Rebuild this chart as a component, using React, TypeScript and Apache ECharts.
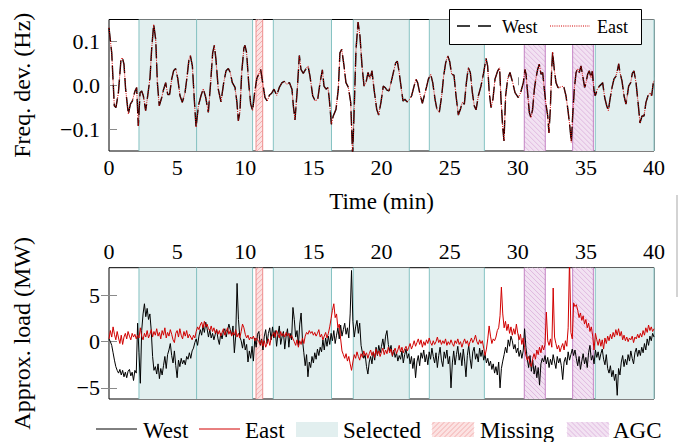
import React, { useEffect, useRef } from "react";
import * as echarts from "echarts";

// ---------- data ----------
const xTickValues = [0, 5, 10, 15, 20, 25, 30, 35, 40];
const freqTickValues = [-0.1, 0, 0.1];
const loadTickValues = [-5, 0, 5];

const freqTime = [
  0.0, 0.2, 0.39, 0.51, 0.69, 0.88, 0.98, 1.1, 1.22, 1.42, 1.57, 1.71, 1.91, 2.03, 2.15, 2.28, 2.4, 2.52, 2.69, 2.84,
  3.01, 3.13, 3.28, 3.43, 3.55, 3.69, 3.87, 4.01, 4.16, 4.31, 4.45, 4.6, 4.74, 4.89, 5.04, 5.21, 5.38, 5.58, 5.72, 5.87,
  5.97, 6.12, 6.26, 6.39, 6.56, 6.75, 6.92, 7.1, 7.29, 7.46, 7.61, 7.73, 7.85, 8.02, 8.22, 8.42, 8.59, 8.76, 8.9, 9.05,
  9.25, 9.39, 9.49, 9.61, 9.74, 9.9, 9.98, 10.1, 10.25, 10.4, 10.54, 10.69, 10.84, 10.98, 11.13, 11.28, 11.45, 11.62, 11.77, 11.94,
  12.11, 12.31, 12.5, 12.7, 12.87, 13.04, 13.24, 13.43, 13.53, 13.65, 13.82, 13.97, 14.09, 14.26, 14.43, 14.61, 14.75, 14.95, 15.14, 15.32,
  15.49, 15.66, 15.78, 15.93, 16.07, 16.17, 16.32, 16.46, 16.66, 16.83, 16.95, 17.08, 17.25, 17.39, 17.57, 17.74, 17.88, 17.98, 18.13, 18.28,
  18.42, 18.57, 18.72, 18.86, 19.01, 19.16, 19.3, 19.45, 19.65, 19.79, 19.96, 20.13, 20.26, 20.4, 20.55, 20.7, 20.87, 21.04, 21.16, 21.28,
  21.43, 21.58, 21.72, 21.87, 22.07, 22.21, 22.39, 22.53, 22.65, 22.83, 23.0, 23.14, 23.32, 23.44, 23.61, 23.76, 23.93, 24.07, 24.24, 24.42,
  24.56, 24.71, 24.86, 25.0, 25.15, 25.32, 25.47, 25.64, 25.79, 25.93, 26.08, 26.23, 26.37, 26.52, 26.67, 26.81, 26.94, 27.11, 27.3, 27.5,
  27.67, 27.79, 27.91, 28.04, 28.18, 28.33, 28.53, 28.67, 28.77, 28.89, 28.99, 29.11, 29.26, 29.43, 29.63, 29.8, 30.04, 30.21, 30.41, 30.53,
  30.61, 30.7, 30.85, 30.97, 31.09, 31.22, 31.34, 31.46, 31.58, 31.71, 31.83, 31.95, 32.07, 32.2, 32.29, 32.39, 32.49, 32.56, 32.68, 32.81,
  32.95, 33.1, 33.25, 33.39, 33.54, 33.69, 33.83, 33.93, 34.03, 34.15, 34.28, 34.4, 34.52, 34.64, 34.77, 34.91, 35.01, 35.13, 35.25, 35.38,
  35.47, 35.6, 35.69, 35.84, 35.99, 36.13, 36.23, 36.38, 36.53, 36.65, 36.77, 36.92, 37.06, 37.21, 37.33, 37.41, 37.5, 37.65, 37.8, 37.94,
  38.04, 38.14, 38.29, 38.41, 38.53, 38.68, 38.83, 38.97, 39.12, 39.27, 39.41, 39.56, 39.71, 39.83, 39.95, 40.0,
];

const freqWest = [
  0.131, 0.074, -0.047, -0.051, -0.017, 0.059, 0.063, 0.048, -0.009, -0.066, -0.043, -0.036, -0.013, -0.005, -0.093, -0.017, -0.013, -0.024, -0.058, -0.024,
  0.017, 0.082, 0.139, 0.104, 0.006, -0.047, -0.028, -0.009, 0.006, -0.021, -0.021, 0.014, 0.033, 0.038, 0.017, -0.024, -0.039, -0.017, 0.017, 0.059,
  0.068, 0.044, -0.032, -0.096, -0.047, -0.024, -0.008, -0.028, -0.062, 0.006, 0.074, 0.091, 0.059, -0.009, -0.038, 0.006, 0.033, 0.038, 0.029, 0.006,
  -0.005, -0.039, -0.081, -0.06, 0.029, 0.085, 0.091, 0.074, 0.006, -0.043, -0.058, -0.017, 0.014, 0.025, 0.036, 0.006, -0.028, -0.036, -0.023, -0.018,
  -0.009, -0.023, -0.005, 0.006, 0.009, 0.002, 0.006, -0.009, -0.047, -0.079, -0.009, 0.068, 0.036, 0.027, 0.036, 0.044, 0.021, -0.024, -0.036, -0.032,
  0.006, 0.035, -0.002, -0.009, -0.005, -0.032, -0.089, -0.07, -0.055, -0.009, 0.074, 0.082, 0.044, 0.006, -0.005, -0.039, -0.16, -0.07, 0.082, 0.144,
  0.112, 0.044, -0.002, 0.006, 0.029, 0.014, 0.033, -0.009, -0.055, -0.068, -0.039, -0.002, -0.005, -0.011, -0.013, 0.006, 0.029, 0.051, 0.055, 0.033,
  -0.002, -0.036, -0.032, -0.038, -0.032, -0.024, -0.002, 0.014, 0.006, -0.021, -0.041, -0.024, -0.002, 0.014, 0.025, 0.006, -0.032, -0.055, -0.062, -0.024,
  0.021, 0.051, 0.067, 0.055, 0.025, 0.023, -0.024, -0.068, -0.055, -0.039, -0.043, 0.006, 0.04, 0.029, -0.017, -0.047, -0.056, -0.024, -0.002, 0.029,
  0.061, 0.044, -0.017, -0.051, -0.032, 0.014, 0.033, 0.04, -0.032, -0.093, -0.127, -0.024, 0.014, 0.029, 0.006, -0.017, -0.028, -0.017, 0.006, 0.036,
  0.025, -0.009, -0.062, -0.074, -0.055, -0.009, 0.017, 0.036, 0.048, 0.025, 0.029, -0.009, -0.043, -0.07, -0.109, -0.055, 0.036, 0.076, 0.036, 0.006,
  -0.005, -0.005, -0.002, -0.005, -0.024, -0.058, -0.096, -0.13, -0.07, -0.009, 0.029, 0.038, 0.029, 0.044, 0.021, -0.005, 0.006, 0.025, 0.033, 0.017,
  0.032, -0.013, -0.024, -0.009, -0.002, 0.002, 0.006, -0.028, -0.047, -0.058, -0.032, -0.005, 0.014, 0.021, 0.036, 0.049, 0.029, 0.01, -0.024, -0.043,
  -0.024, -0.002, 0.006, 0.027, 0.033, 0.006, -0.039, -0.086, -0.07, -0.07, -0.039, -0.024, -0.017, -0.024, 0.006, 0.01,
];
// the two frequency traces coincide in the figure
const freqEast = freqWest;

const loadStep = 0.1; // minutes between load samples
const loadWest = [
  0.3, 0.0, -0.4, -1.2, -2.0, -2.7, -3.1, -3.4, -3.0, -3.6,
  -3.1, -3.8, -3.3, -3.9, -3.2, -3.0, -3.7, -3.3, -4.2, -3.1,
  -3.4, 2.0, -1.2, -4.5, 1.2, 3.0, 4.1, 2.7, 3.6, 2.4,
  3.0, 1.2, -1.6, -3.1, -2.7, -3.5, -2.4, -4.0, -2.9, -3.6,
  -2.6, -1.6, -2.9, -1.4, -0.9, -0.2, -1.5, -2.3, -1.0, -2.6,
  -3.9, -2.0, -2.7, -1.8, -2.4, -2.0, -2.5, -1.6, -1.9, -1.2,
  -1.8, -1.0, -0.7, -0.1, 0.3, -0.4, 0.6, 1.3, 0.7, 1.7,
  1.0, 2.1, 1.4, 0.5, 1.3, 0.4, 0.9, 0.2, 0.8, 1.3,
  0.3, -0.3, 0.9, 0.3, 1.1, 1.4, 0.5, 1.2, 1.9, 1.3,
  0.7, 1.7, -1.2, 0.6, 6.3, 2.4, 0.5, 0.1, -0.7, 0.3,
  -0.9, -0.3, -2.2, -1.0, -1.8, -0.5, -2.1, 0.4, -0.6, 0.8,
  1.1, -0.4, 0.3, -0.9, 0.6, 1.3, -0.2, 0.9, 1.5, 0.2,
  1.6, 0.4, 1.2, -0.5, 0.8, 1.7, -0.3, 0.5, 1.1, -0.8,
  0.6, 1.4, -0.6, 0.9, 0.2, 3.7, 2.4, 0.5, 1.2, -0.4,
  1.9, 3.1, 0.2, -1.2, -2.6, -1.4, -3.8, -2.2, -2.8, -1.6,
  -2.3, -1.2, -1.9, -0.8, -1.5, -0.6, -1.1, 0.2, -0.9, 0.4,
  -0.5, 0.6, -0.3, 0.9, 0.1, 1.2, -0.2, 0.7, 1.5, 0.3,
  1.8, 0.6, 1.3, 2.0, 0.8, 1.5, 0.4, 3.0, 7.7, 2.2,
  0.5, 1.6, 2.3, 0.9, 2.0, -0.4, -1.2, -1.8, -1.4, -2.7,
  -3.5, -2.2, -1.6, -2.4, -1.1, -2.0, -0.6, -1.5, -0.4, -1.2,
  -0.5, 0.3, -0.8, 0.6, 1.2, -0.3, -1.0, -0.4, -1.6, -0.9,
  -1.7, -1.2, -2.1, -1.5, -1.9, -1.0, -2.3, -1.4, -0.8, -1.8,
  -1.3, -2.4, -1.6, -2.9, -1.8, -3.9, -2.2, -1.5, -2.6, -1.2,
  -1.8, -0.9, -2.2, -1.4, -2.5, -1.1, -1.9, -0.7, -1.6, -2.3,
  -1.2, -2.8, -1.5, -0.6, -2.0, -2.7, -1.1, -1.8, -0.9, -2.4,
  -1.6, -5.0, -2.3, -1.0, -2.5, -1.4, -0.5, -2.0, -1.2, -2.6,
  -0.8, -2.1, -3.8, -1.5, -0.4, -1.8, -2.9, -1.1, -0.6, -1.9,
  -1.3, -2.2, -0.7, -1.6, -0.9, -2.0, -1.4, -2.3, -1.8, -2.6,
  -2.1, -3.0, -2.4, -3.4, -2.7, -3.6, -2.2, -5.0, -2.9, -2.1,
  -1.4, -0.6, -1.2, 0.2, -0.5, 0.6, 0.1, -0.8, -0.3, -1.2,
  -0.7, -1.6, -0.9, -1.8, -1.0, 1.4, -0.6, -1.9, -2.8, -1.5,
  -3.2, -2.0, -3.5, -2.6, -3.9, -2.8, -4.7, -2.4, -1.8, -2.2,
  -1.5, -2.4, -1.7, -2.8, -1.9, -2.5, -1.4, -2.2, -2.9, -1.6,
  -2.3, -1.8, -2.6, -4.1, -2.2, -1.7, -2.5, -1.1, -2.0, -1.4,
  -0.8, -1.5, -0.9, -1.8, -2.6, -1.6, -3.0, -2.1, -1.3, -2.4,
  -1.7, -2.8, -1.2, -0.4, -2.0, -1.5, -2.4, -0.9, -1.7, -1.1,
  -2.0, -1.3, -0.8, -1.9, -2.5, -1.4, -2.9, -3.4, -2.6, -3.8,
  -3.1, -4.2, -3.5, -5.8, -2.9, -3.6, -2.2, -1.5, -2.7, -1.9,
  -2.5, -1.4, -2.1, -1.0, -1.8, -2.4, -1.2, -0.7, -1.6, -0.9,
  -1.5, -0.6, -1.2, -0.2, -0.9, 0.3, -0.4, 0.6, 0.1, 0.9,
  0.5,
];

const loadEast = [
  0.3, 1.2, 0.5, 1.6, 0.8, 0.2, 1.1, 0.4, -0.2, 0.7,
  -0.3, 0.5, 0.9, 0.3, 1.1, 0.6, 0.2, 0.9, 0.5, 0.8,
  0.3, 0.7, 0.4, 1.5, 0.6, 0.2, 0.9, 0.5, 1.2, 0.4,
  0.8, 1.3, 0.5, 1.1, 0.7, 1.4, 0.6, 1.0, 0.3, 1.2,
  0.7, 1.5, 0.4, 1.0, 0.6, 1.3, 0.8, 0.2, -0.1, 0.9,
  1.2, 0.5, 1.4, 0.7, 0.3, 1.1, 0.6, 1.2, 0.4, 0.8,
  0.5, 0.2, 0.7, 0.4, 1.1, 1.6, 1.3, 1.8, 2.1, 1.5,
  2.2, 1.6, 1.9, 1.4, 1.2, 1.7, 1.1, 1.5, 0.9, 1.3,
  0.8, 1.2, 0.6, 1.0, 1.4, 0.7, 1.1, 1.5, 0.8, 1.2,
  0.6, 1.0, 0.7, 1.3, 0.5, 0.9, 0.4, 1.1, 1.9, 1.5,
  0.8, 0.4, 0.7, 0.2, 0.5, 0.3, 0.6, 0.1, 0.4, 0.2,
  0.0, -0.3, 0.2, -0.5, 0.1, -0.6, -0.2, 0.3, -0.4, 0.4,
  0.7, 1.0, 0.5, 1.2, 0.8, 0.4, 1.1, 0.6, 0.9, 0.5,
  1.0, 0.6, 0.9, 0.4, 0.7, 0.3, 0.0, -0.4, 0.2, -0.6,
  0.1, -0.3, 0.4, -0.2, 0.6, 1.0, 0.8, 1.2, 0.9, 1.1,
  0.7, 1.0, 0.6, 0.9, 1.3, 0.5, 0.8, 0.2, 0.6, 1.0,
  0.4, 0.9, 1.6, 2.5, 3.4, 4.1, 2.6, 3.0, 1.5, 1.9,
  0.3, -1.0, -1.4, -1.8, -1.3, -2.1, -1.6, -2.4, -3.1, -2.2,
  -1.4, -1.8, -1.1, -1.6, -2.0, -1.3, -1.7, -1.0, -1.5, -1.2,
  -1.8, -1.3, -0.9, -1.5, -1.1, -1.7, -0.8, -1.4, -1.0, -1.6,
  -1.1, -0.7, -1.4, -0.9, -1.3, -0.6, -1.2, -0.8, -1.5, -1.0,
  -0.7, -1.3, -0.9, -0.4, -1.1, -0.6, -1.2, -0.8, -0.5, -1.0,
  -0.6, -0.2, -0.8, -0.4, 0.1, -0.5, -0.1, 0.3, -0.3, 0.2,
  -0.6, 0.0, -0.4, 0.2, -0.2, 0.4, -0.1, -0.4, 0.1, -0.3,
  0.0, 0.5, -0.1, 0.2, -0.3, 0.1, -0.2, 0.3, -0.4, 0.0,
  -0.3, 0.2, -0.2, -0.5, 0.1, -0.2, 0.3, -0.3, 0.0, -0.6,
  -0.1, 0.3, -0.2, 0.1, -0.5, 0.0, 0.4, -0.1, 0.2, 0.7,
  0.0, -0.3, 0.2, -0.2, 0.1, -0.7, -1.5, -0.8, 0.3, 1.7,
  0.6, -0.2, 0.3, 0.1, 0.5, 1.2, 1.5, 2.8, 5.9, 3.0,
  1.5, 2.2, 1.2, 1.9, 0.9, 1.6, 0.7, 1.4, 0.8, 1.9,
  0.9, 0.2, 0.8, -0.3, 0.4, -0.6, -1.5, -2.0, -1.6, -2.4,
  -2.7, -1.8, -1.3, -1.9, -0.9, -1.4, -0.6, -1.2, -0.4, -0.9,
  -0.3, 3.2, 0.1, -0.4, 0.3, -0.6, 5.8, 0.5, -0.2, -0.8,
  -0.4, -1.1, -0.6, -0.2, -0.9, 0.1, -0.5, 1.5, 9.0, 1.0,
  0.3, 4.2, 3.8, 4.0, 3.4, 2.6, 3.1, 2.3, 2.8, 1.9,
  2.4, 1.5, 2.0, 1.1, 1.6, 0.6, -0.9, 0.9, 0.2, -0.4,
  0.3, -0.5, 0.2, -0.8, 0.4, -0.2, 0.6, 0.1, 0.8, 0.3,
  1.0, 0.5, 1.3, 0.7, 1.4, 0.6, 1.1, 0.2, 0.7, 0.1,
  0.5, 0.0, 0.4, 0.2, 0.6, -0.1, 0.5, 0.3, 0.8, 0.4,
  0.9, 0.5, 1.2, 0.7, 1.5, 1.0, 1.8, 1.2, 1.6, 1.1,
  1.4,
];

const selectedSpans = [[2.2, 6.43], [6.43, 10.54], [12.06, 16.33], [17.93, 22.04], [23.51, 27.55], [35.69, 40]];
const missingSpans = [[10.79, 11.28]];
const agcSpans = [[30.48, 32.02], [34.03, 35.55]];

// ---------- styles ----------
const FONT = '"Liberation Serif", "Times New Roman", serif';
const RED = "#d10000";
const REGION = {
  selected: { fill: "#e2efef", hatch: "", dir: 0, border: "#86c3c3" },
  missing: { fill: "#fbe2e2", hatch: "#f0a0a0", dir: 1, border: "#ee8e8e" },
  agc: { fill: "#f2e2f2", hatch: "#d9acd9", dir: -1, border: "#c483c4" },
};

function hatchLines(x0: number, y0: number, x1: number, y1: number, dir: number, step: number, color: string) {
  const out: any[] = [];
  if (!dir) return out;
  if (dir > 0) {
    for (let c = x0 + y0 + step / 2; c < x1 + y1; c += step) {
      const xs = Math.max(x0, c - y1);
      const xe = Math.min(x1, c - y0);
      if (xe > xs) out.push({ type: "line", silent: true, shape: { x1: xs, y1: c - xs, x2: xe, y2: c - xe }, style: { stroke: color, lineWidth: 0.8 } });
    }
  } else {
    for (let c = y0 - x1 + step / 2; c < y1 - x0; c += step) {
      const xs = Math.max(x0, y0 - c);
      const xe = Math.min(x1, y1 - c);
      if (xe > xs) out.push({ type: "line", silent: true, shape: { x1: xs, y1: xs + c, x2: xe, y2: xe + c }, style: { stroke: color, lineWidth: 0.8 } });
    }
  }
  return out;
}

function regionSeries(name: string, spans: number[][], kind: keyof typeof REGION, xIdx: number, yIdx: number) {
  const st = REGION[kind];
  return {
    type: "custom",
    name,
    xAxisIndex: xIdx,
    yAxisIndex: yIdx,
    silent: true,
    z: 1,
    data: spans.map((s) => [s[0], s[1]]),
    encode: { x: [0, 1] },
    renderItem: (params: any, api: any) => {
      const cs = params.coordSys;
      const xa = api.coord([api.value(0), 0])[0];
      const xb = api.coord([api.value(1), 0])[0];
      const y0 = cs.y;
      const y1 = cs.y + cs.height;
      const children: any[] = [
        { type: "rect", shape: { x: xa, y: y0, width: xb - xa, height: y1 - y0 }, style: { fill: st.fill } },
        ...hatchLines(xa, y0, xb, y1, st.dir, 5, st.hatch),
        { type: "line", shape: { x1: xa, y1: y0, x2: xa, y2: y1 }, style: { stroke: st.border, lineWidth: 1 } },
        { type: "line", shape: { x1: xb, y1: y0, x2: xb, y2: y1 }, style: { stroke: st.border, lineWidth: 1 } },
      ];
      return { type: "group", children };
    },
  };
}

const minusFmt = (digits: number) => (v: number) =>
  (v < 0 ? "\u2212" : "") + (digits > 0 ? Math.abs(v).toFixed(digits) : String(Math.abs(v)));

const tickStyle = { show: true, inside: true, length: 8, lineStyle: { color: "#8a8a8a", width: 1 } };
const labelStyle = { color: "#000", fontFamily: FONT, fontSize: 22 };

function textEl(text: string, x: number, y: number, size: number) {
  return { type: "text", z: 120, silent: true, style: { text, x, y, fill: "#000", fontFamily: FONT, fontSize: size, verticalAlign: "middle", align: "left" } };
}

export default function App() {
  const ref = useRef<HTMLDivElement>(null);
  useEffect(() => {
    document.body.style.margin = "0";
    if (!ref.current) return;
    const chart = echarts.init(ref.current, null, { renderer: "svg" });

    const freqW = freqTime.map((t, i) => [t, freqWest[i]]);
    const freqE = freqTime.map((t, i) => [t, freqEast[i]]);
    const loadW = loadWest.map((v, i) => [+(i * loadStep).toFixed(1), v]);
    const loadE = loadEast.map((v, i) => [+(i * loadStep).toFixed(1), v]);

    // legends drawn as graphics
    const lgY = 429;
    const graphic: any[] = [
      // top legend
      { type: "rect", z: 110, silent: true, shape: { x: 449.5, y: 9.5, width: 192, height: 35 }, style: { fill: "#fff", stroke: "#000", lineWidth: 1 } },
      { type: "line", z: 120, silent: true, shape: { x1: 457, y1: 26, x2: 493, y2: 26 }, style: { stroke: "#000", lineWidth: 1.3, lineDash: [13, 8] } },
      textEl("West", 502, 26.5, 18),
      { type: "line", z: 120, silent: true, shape: { x1: 550, y1: 26, x2: 590, y2: 26 }, style: { stroke: RED, lineWidth: 1, lineDash: [1, 1.2] } },
      textEl("East", 597, 26.5, 18),
      // bottom legend
      { type: "line", z: 120, silent: true, shape: { x1: 96, y1: lgY, x2: 137, y2: lgY }, style: { stroke: "#000", lineWidth: 1 } },
      textEl("West", 143, lgY + 1, 23),
      { type: "line", z: 120, silent: true, shape: { x1: 199, y1: lgY, x2: 240, y2: lgY }, style: { stroke: RED, lineWidth: 1 } },
      textEl("East", 245, lgY + 1, 23),
      { type: "rect", z: 120, silent: true, shape: { x: 296, y: 422, width: 42, height: 15 }, style: { fill: REGION.selected.fill } },
      textEl("Selected", 343, lgY + 1, 23),
      { type: "rect", z: 120, silent: true, shape: { x: 432, y: 422, width: 42, height: 15 }, style: { fill: REGION.missing.fill } },
      ...hatchLines(432, 422, 474, 437, 1, 5, REGION.missing.hatch).map((e) => ({ ...e, z: 121 })),
      textEl("Missing", 480, lgY + 1, 23),
      { type: "rect", z: 120, silent: true, shape: { x: 567, y: 422, width: 42, height: 15 }, style: { fill: REGION.agc.fill } },
      ...hatchLines(567, 422, 609, 437, -1, 5, REGION.agc.hatch).map((e) => ({ ...e, z: 121 })),
      textEl("AGC", 613, lgY + 1, 23),
      // stray mark at right edge of the figure
      { type: "line", z: 120, silent: true, shape: { x1: 677, y1: 195, x2: 677, y2: 297 }, style: { stroke: "#c4c4c4", lineWidth: 1.5 } },
    ];

    const option: any = {
      animation: false,
      backgroundColor: "#fff",
      grid: [
        { left: 109, top: 19.5, width: 545, height: 131.5, show: true, borderColor: "#000", borderWidth: 1, backgroundColor: "transparent" },
        { left: 109, top: 267.7, width: 545, height: 131.3, show: true, borderColor: "#000", borderWidth: 1, backgroundColor: "transparent" },
      ],
      xAxis: [
        {
          gridIndex: 0, type: "value", min: 0, max: 40, interval: 5, position: "bottom",
          axisLine: { show: false }, splitLine: { show: false },
          axisTick: { ...tickStyle, customValues: xTickValues },
          axisLabel: { ...labelStyle, margin: 5, customValues: xTickValues },
          name: "Time (min)", nameLocation: "middle", nameGap: 39,
          nameTextStyle: { color: "#000", fontFamily: FONT, fontSize: 23 },
        },
        {
          gridIndex: 1, type: "value", min: 0, max: 40, interval: 5, position: "top",
          axisLine: { show: false }, splitLine: { show: false },
          axisTick: { ...tickStyle, customValues: xTickValues },
          axisLabel: { ...labelStyle, margin: 5, customValues: xTickValues },
        },
        {
          gridIndex: 1, type: "value", min: 0, max: 40, interval: 5, position: "bottom",
          axisLine: { show: false }, splitLine: { show: false },
          axisTick: { ...tickStyle, customValues: xTickValues },
          axisLabel: { show: false },
        },
      ],
      yAxis: [
        {
          gridIndex: 0, type: "value", min: -0.15, max: 0.15, position: "left",
          axisLine: { show: false }, splitLine: { show: false },
          axisTick: { ...tickStyle, customValues: freqTickValues },
          axisLabel: { ...labelStyle, margin: 9, customValues: freqTickValues, formatter: minusFmt(1) },
          name: "Freq. dev. (Hz)", nameLocation: "middle", nameGap: 75,
          nameTextStyle: { color: "#000", fontFamily: FONT, fontSize: 24 },
        },
        {
          gridIndex: 0, type: "value", min: -0.15, max: 0.15, position: "right",
          axisLine: { show: false }, splitLine: { show: false },
          axisTick: { ...tickStyle, customValues: freqTickValues },
          axisLabel: { show: false },
        },
        {
          gridIndex: 1, type: "value", min: -6.2, max: 8, position: "left",
          axisLine: { show: false }, splitLine: { show: false },
          axisTick: { ...tickStyle, customValues: loadTickValues },
          axisLabel: { ...labelStyle, margin: 9, customValues: loadTickValues, formatter: minusFmt(0) },
          name: "Approx. load (MW)", nameLocation: "middle", nameGap: 75,
          nameTextStyle: { color: "#000", fontFamily: FONT, fontSize: 24 },
        },
        {
          gridIndex: 1, type: "value", min: -6.2, max: 8, position: "right",
          axisLine: { show: false }, splitLine: { show: false },
          axisTick: { ...tickStyle, customValues: loadTickValues },
          axisLabel: { show: false },
        },
      ],
      series: [
        regionSeries("Selected", selectedSpans, "selected", 0, 0),
        regionSeries("Missing", missingSpans, "missing", 0, 0),
        regionSeries("AGC", agcSpans, "agc", 0, 0),
        regionSeries("Selected ", selectedSpans, "selected", 1, 2),
        regionSeries("Missing ", missingSpans, "missing", 1, 2),
        regionSeries("AGC ", agcSpans, "agc", 1, 2),
        {
          type: "line", name: "West", xAxisIndex: 0, yAxisIndex: 0, data: freqW, showSymbol: false, symbol: "none",
          clip: true, z: 5, lineStyle: { color: "#000", width: 1.4, type: [14, 5] },
        },
        {
          type: "line", name: "East", xAxisIndex: 0, yAxisIndex: 0, data: freqE, showSymbol: false, symbol: "none",
          clip: true, z: 6, lineStyle: { color: RED, width: 1, type: [1, 1.2] },
        },
        {
          type: "line", name: "West load", xAxisIndex: 1, yAxisIndex: 2, data: loadW, showSymbol: false, symbol: "none",
          clip: true, z: 5, lineStyle: { color: "#000", width: 1 },
        },
        {
          type: "line", name: "East load", xAxisIndex: 1, yAxisIndex: 2, data: loadE, showSymbol: false, symbol: "none",
          clip: true, z: 6, lineStyle: { color: RED, width: 1 },
        },
      ],
      graphic,
    };
    chart.setOption(option);
    return () => chart.dispose();
  }, []);
  return <div ref={ref} style={{ position: "absolute", left: 0, top: 0, width: 678, height: 442 }} />;
}
